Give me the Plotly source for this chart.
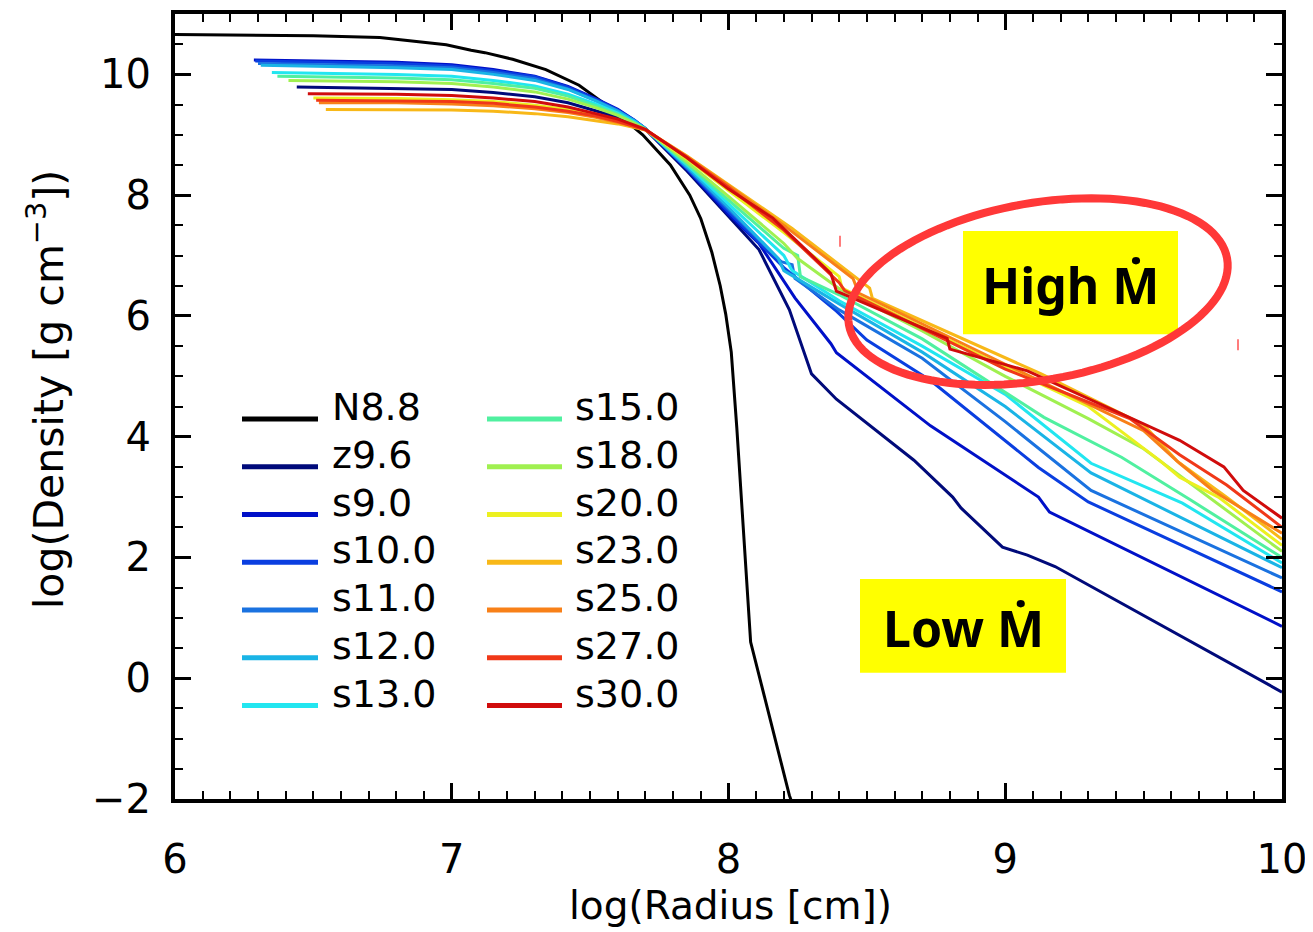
import numpy as np
import plotly.graph_objects as go

# ---------------- data ----------------
N88_R = [6.0, 6.5, 6.74, 6.98, 7.07, 7.12, 7.22, 7.34, 7.46, 7.58, 7.69, 7.79, 7.86, 7.90, 7.94, 7.97,
         7.99, 8.01, 8.03, 8.055, 8.08, 8.22, 8.24]
N88_D = [10.66, 10.64, 10.61, 10.49, 10.40, 10.36, 10.25, 10.08, 9.82, 9.42, 9.00, 8.50, 8.00, 7.61, 7.05, 6.50,
         6.03, 5.40, 4.15, 2.40, 0.60, -1.94, -2.2]

Z96_R = [6.44, 6.8, 7.0, 7.15, 7.3, 7.42, 7.52, 7.6, 7.66, 7.70, 7.85, 8.0, 8.11, 8.22, 8.30, 8.39, 8.67, 8.81, 8.84, 8.99, 9.08, 9.18, 10.0]
Z96_D = [9.79, 9.77, 9.75, 9.70, 9.63, 9.53, 9.40, 9.29, 9.17, 9.09, 8.40, 7.65, 7.10, 6.10, 5.04, 4.62, 3.61, 3.00, 2.82, 2.17, 2.04, 1.85, -0.23]

S09_R = [6.285, 6.8, 7.0, 7.15, 7.3, 7.42, 7.52, 7.6, 7.66, 7.70, 7.85, 8.0, 8.11, 8.24, 8.37, 8.39, 8.73, 9.12, 9.16, 10.0]
S09_D = [10.24, 10.20, 10.16, 10.08, 9.97, 9.80, 9.60, 9.42, 9.24, 9.10, 8.43, 7.68, 7.20, 6.30, 5.54, 5.39, 4.18, 3.00, 2.75, 0.86]

S10_R = [6.29, 6.8, 7.0, 7.15, 7.3, 7.42, 7.52, 7.6, 7.66, 7.70, 7.85, 8.0, 8.2, 8.39, 8.5, 8.73, 9.12, 9.30, 10.0]
S10_D = [10.22, 10.18, 10.14, 10.06, 9.96, 9.79, 9.59, 9.41, 9.24, 9.10, 8.44, 7.72, 6.80, 6.08, 5.60, 4.93, 3.49, 2.92, 1.43]

S11_R = [6.30, 6.8, 7.0, 7.15, 7.3, 7.42, 7.52, 7.6, 7.66, 7.70, 7.85, 8.0, 8.19, 8.23, 8.24, 8.4, 8.7, 9.0, 9.31, 10.0]
S11_D = [10.18, 10.14, 10.11, 10.03, 9.93, 9.76, 9.57, 9.40, 9.23, 9.10, 8.45, 7.76, 6.90, 6.85, 6.62, 6.10, 5.30, 4.25, 3.11, 1.66]

S12_R = [6.31, 6.8, 7.0, 7.15, 7.3, 7.42, 7.52, 7.6, 7.66, 7.70, 7.85, 8.0, 8.18, 8.2, 8.4, 8.7, 9.0, 9.31, 10.0]
S12_D = [10.15, 10.11, 10.08, 10.00, 9.90, 9.75, 9.56, 9.39, 9.23, 9.10, 8.47, 7.80, 6.95, 6.75, 6.20, 5.40, 4.50, 3.40, 1.83]

S13_R = [6.35, 6.8, 7.0, 7.15, 7.3, 7.42, 7.52, 7.6, 7.66, 7.70, 7.85, 8.0, 8.2, 8.23, 8.4, 8.7, 9.0, 9.31, 9.64, 10.0]
S13_D = [10.03, 10.00, 9.97, 9.90, 9.81, 9.67, 9.51, 9.36, 9.21, 9.09, 8.50, 7.86, 7.00, 6.75, 6.25, 5.50, 4.70, 3.56, 2.90, 1.91]

S15_R = [6.37, 6.8, 7.0, 7.15, 7.3, 7.42, 7.52, 7.6, 7.66, 7.70, 7.85, 8.0, 8.2, 8.25, 8.26, 8.4, 8.7, 9.14, 9.42, 9.67, 10.0]
S15_D = [9.97, 9.94, 9.91, 9.85, 9.77, 9.64, 9.48, 9.34, 9.20, 9.09, 8.52, 7.92, 7.12, 7.00, 6.65, 6.35, 5.62, 4.32, 3.66, 2.95, 2.00]

S18_R = [6.41, 6.8, 7.0, 7.15, 7.3, 7.42, 7.52, 7.6, 7.66, 7.70, 7.85, 8.0, 8.2, 8.25, 8.4, 8.7, 9.0, 9.3, 9.5, 9.75, 10.0]
S18_D = [9.90, 9.88, 9.85, 9.79, 9.71, 9.59, 9.45, 9.32, 9.19, 9.09, 8.55, 7.98, 7.20, 6.95, 6.45, 5.75, 5.00, 4.30, 3.80, 2.95, 2.10]

S20_R = [6.50, 6.8, 7.0, 7.15, 7.3, 7.42, 7.52, 7.6, 7.66, 7.70, 7.85, 8.0, 8.2, 8.40, 8.41, 9.0, 9.3, 9.56, 9.63, 9.77, 10.0]
S20_D = [9.61, 9.60, 9.58, 9.55, 9.49, 9.42, 9.32, 9.24, 9.15, 9.08, 8.60, 8.08, 7.38, 6.65, 6.46, 5.15, 4.50, 3.60, 3.33, 3.00, 2.20]

S23_R = [6.545, 6.8, 7.0, 7.15, 7.3, 7.42, 7.52, 7.6, 7.66, 7.70, 7.85, 8.0, 8.23, 8.51, 8.52, 9.13, 9.5, 9.62, 9.8, 10.0]
S23_D = [9.42, 9.42, 9.41, 9.39, 9.35, 9.30, 9.24, 9.18, 9.12, 9.08, 8.65, 8.18, 7.45, 6.46, 6.29, 5.04, 4.20, 3.60, 3.00, 2.30]

S25_R = [6.52, 6.8, 7.0, 7.15, 7.3, 7.42, 7.52, 7.6, 7.66, 7.70, 7.85, 8.0, 8.2, 8.45, 8.47, 9.0, 9.5, 9.63, 9.75, 10.0]
S25_D = [9.53, 9.53, 9.51, 9.48, 9.43, 9.37, 9.29, 9.21, 9.14, 9.08, 8.64, 8.16, 7.50, 6.62, 6.38, 5.20, 4.10, 3.56, 3.11, 2.40]

S27_R = [6.51, 6.8, 7.0, 7.15, 7.3, 7.42, 7.52, 7.6, 7.66, 7.70, 7.85, 8.0, 8.2, 8.40, 8.42, 9.0, 9.45, 9.63, 9.8, 10.0]
S27_D = [9.57, 9.56, 9.55, 9.52, 9.46, 9.39, 9.31, 9.22, 9.14, 9.08, 8.63, 8.13, 7.42, 6.55, 6.42, 5.12, 4.30, 3.70, 3.20, 2.50]

S30_R = [6.48, 6.8, 7.0, 7.15, 7.3, 7.42, 7.52, 7.6, 7.66, 7.70, 7.85, 8.0, 8.16, 8.37, 8.39, 8.79, 8.80, 9.08, 9.42, 9.63, 9.79, 9.86, 10.0]
S30_D = [9.68, 9.67, 9.65, 9.61, 9.55, 9.46, 9.35, 9.26, 9.16, 9.09, 8.62, 8.10, 7.62, 6.70, 6.41, 5.63, 5.45, 5.09, 4.38, 3.94, 3.50, 3.11, 2.65]

NAMES = ["N8.8", "z9.6", "s9.0", "s10.0", "s11.0", "s12.0", "s13.0",
         "s15.0", "s18.0", "s20.0", "s23.0", "s25.0", "s27.0", "s30.0"]
COLORS = ["#000000", "#000a7a", "#0010c8", "#0a3ee0", "#1a72e0", "#1ab4e6", "#22e6f0",
          "#50f0a0", "#a0f050", "#ecf020", "#f8b818", "#f88018", "#f03818", "#d00c0c"]
SERIES_R = [N88_R, Z96_R, S09_R, S10_R, S11_R, S12_R, S13_R, S15_R, S18_R, S20_R, S23_R, S25_R, S27_R, S30_R]
SERIES_D = [N88_D, Z96_D, S09_D, S10_D, S11_D, S12_D, S13_D, S15_D, S18_D, S20_D, S23_D, S25_D, S27_D, S30_D]

X_TICKS = [6, 7, 8, 9, 10]
Y_TICKS = [-2, 0, 2, 4, 6, 8, 10]

# ---------------- layout geometry ----------------
OFF = 8                      # page body margin of the html page
W, H = 1313 - OFF, 932 - OFF
ML, MR, MT, MB = 175 - OFF, 31, 10 - OFF, 133
PW, PH = W - ML - MR, H - MT - MB
XR = [6, 10]
YR = [-2, 11.0]
PXX = PW / (XR[1] - XR[0])
PXY = PH / (YR[1] - YR[0])


def px2paper(px, py):
    # px, py: page pixel position in the reference picture
    return (px - OFF - ML) / PW, (H - MB - (py - OFF)) / PH


def px2data(px, py):
    return XR[0] + (px - OFF - ML) / PXX, YR[1] - (py - OFF - MT) / PXY


FONT = "DejaVu Sans"
fig = go.Figure()

for name, col, r, d in zip(NAMES, COLORS, SERIES_R, SERIES_D):
    fig.add_trace(go.Scatter(x=r, y=d, mode="lines", name=name,
                             line=dict(color=col, width=3), showlegend=False))

shapes = []
annotations = []

# manual two-column legend
col_x = [(242, 318, 330), (487, 562, 573)]
row_y = [417, 465, 513, 561, 609, 657, 705]
for i, (name, col) in enumerate(zip(NAMES, COLORS)):
    c, rr = divmod(i, 7)
    x0, x1, xt = col_x[c]
    yl = row_y[rr]
    p0 = px2paper(x0, yl)
    p1 = px2paper(x1, yl)
    shapes.append(dict(type="line", xref="paper", yref="paper", x0=p0[0], x1=p1[0],
                       y0=p0[1], y1=p1[1], line=dict(color=col, width=5)))
    pt = px2paper(xt, yl - 12)
    annotations.append(dict(x=pt[0], y=pt[1], xref="paper", yref="paper", text=name,
                            showarrow=False, xanchor="left", yanchor="middle",
                            font=dict(family=FONT, size=38, color="black")))

# yellow label boxes
for (bx0, by0, bx1, by1), label in [((963, 228, 1178, 332), "High Ṁ"),
                                    ((860, 578, 1066, 672), "Low Ṁ")]:
    d0 = px2data(bx0, by0)
    d1 = px2data(bx1, by1)
    shapes.append(dict(type="rect", xref="x", yref="y", x0=d0[0], x1=d1[0], y0=d1[1], y1=d0[1],
                       fillcolor="#ffff00", line=dict(width=0), layer="above"))
    c = px2data((bx0 + bx1) / 2, (by0 + by1) / 2 + 2)
    annotations.append(dict(x=c[0], y=c[1], xref="x", yref="y", text="<b>" + label + "</b>",
                            showarrow=False, xanchor="center", yanchor="middle",
                            font=dict(family="Noto Sans", size=50, color="black")))

# red ellipse (pixel geometry -> data units)
ecx, ecy = px2data(1038, 289)
ea, eb, eth = 192.0, 89.0, np.deg2rad(10)
t = np.linspace(0, 2 * np.pi, 121)
u = ea * np.cos(t) * np.cos(eth) - eb * np.sin(t) * np.sin(eth)
v = ea * np.cos(t) * np.sin(eth) + eb * np.sin(t) * np.cos(eth)
ex = ecx + u / PXX
ey = ecy + v / PXY
path = "M " + " L ".join(f"{a:.4f},{b:.4f}" for a, b in zip(ex, ey)) + " Z"
shapes.append(dict(type="path", xref="x", yref="y", path=path,
                   line=dict(color="#ff3838", width=8), layer="above"))

# small red marks
for (mx, my0, my1) in [(840, 233, 244), (1238, 337, 348)]:
    a0 = px2data(mx, my0)
    a1 = px2data(mx, my1)
    shapes.append(dict(type="line", xref="x", yref="y", x0=a0[0], x1=a1[0], y0=a0[1], y1=a1[1],
                       line=dict(color="#ff5050", width=1.5)))

# axis titles
tx = px2paper(730, 906)
annotations.append(dict(x=tx[0], y=tx[1], xref="paper", yref="paper", text="log(Radius [cm])",
                        showarrow=False, xanchor="center", yanchor="middle",
                        font=dict(family=FONT, size=39, color="black")))
ty = px2paper(46, 388)
annotations.append(dict(x=ty[0], y=ty[1], xref="paper", yref="paper",
                        text="log(Density [g cm<sup>−3</sup>])", textangle=-90,
                        showarrow=False, xanchor="center", yanchor="middle",
                        font=dict(family=FONT, size=41, color="black")))

axis_common = dict(showline=True, linewidth=4, linecolor="black", mirror="ticks",
                   ticks="inside", ticklen=16, tickwidth=3, tickcolor="black",
                   showgrid=False, zeroline=False,
                   tickfont=dict(family=FONT, size=40, color="black"))

fig.update_layout(
    width=W, height=H,
    margin=dict(l=ML, r=MR, t=MT, b=MB, pad=0),
    paper_bgcolor="white", plot_bgcolor="white",
    showlegend=False,
    shapes=shapes, annotations=annotations,
    xaxis=dict(range=XR, tickvals=X_TICKS, ticklabelstandoff=22,
               minor=dict(ticks="inside", dtick=0.1, tick0=6, ticklen=8, tickwidth=2,
                          tickcolor="black", showgrid=False),
               **axis_common),
    yaxis=dict(range=YR, tickvals=Y_TICKS, ticklabelstandoff=12,
               minor=dict(ticks="inside", dtick=0.5, tick0=0, ticklen=8, tickwidth=2,
                          tickcolor="black", showgrid=False),
               **axis_common),
)

fig.write_html("out.html")
